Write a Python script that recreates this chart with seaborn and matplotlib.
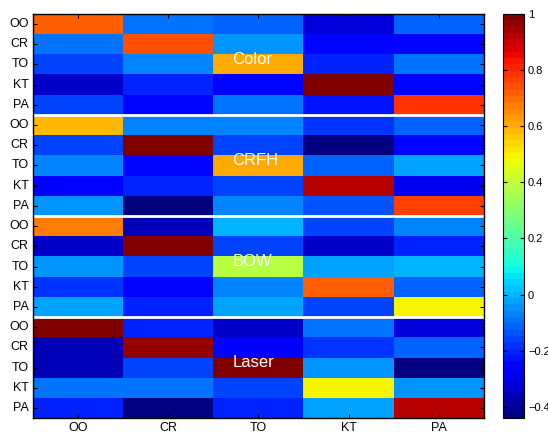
import numpy as np
import pandas as pd
import matplotlib
matplotlib.use("Agg")
import matplotlib.pyplot as plt
import seaborn as sns

labels = ["OO", "CR", "TO", "KT", "PA"]
groups = ["Color", "CRFH", "BOW", "Laser"]

color_vals = [
    [0.71, -0.10, -0.12, -0.32, -0.12],
    [-0.10, 0.74, -0.05, -0.26, -0.26],
    [-0.15, -0.08, 0.60, -0.20, -0.10],
    [-0.34, -0.20, -0.26, 1.00, -0.26],
    [-0.15, -0.26, -0.10, -0.22, 0.79],
]
crfh_vals = [
    [0.58, -0.08, -0.08, -0.18, -0.12],
    [-0.15, 1.00, -0.16, -0.42, -0.26],
    [-0.07, -0.26, 0.60, -0.12, -0.02],
    [-0.28, -0.20, -0.16, 0.92, -0.30],
    [-0.04, -0.44, -0.07, -0.14, 0.77],
]
bow_vals = [
    [0.68, -0.36, 0.00, -0.15, -0.08],
    [-0.34, 1.00, -0.15, -0.34, -0.20],
    [-0.05, -0.15, 0.38, -0.03, 0.00],
    [-0.18, -0.26, -0.08, 0.71, -0.12],
    [-0.02, -0.20, -0.02, -0.15, 0.49],
]
laser_vals = [
    [1.00, -0.21, -0.34, -0.10, -0.32],
    [-0.36, 0.97, -0.28, -0.18, -0.12],
    [-0.36, -0.15, 1.00, -0.05, -0.42],
    [-0.10, -0.10, -0.15, 0.49, -0.04],
    [-0.20, -0.44, -0.21, -0.02, 0.92],
]

blocks = [color_vals, crfh_vals, bow_vals, laser_vals]
data = pd.DataFrame(np.vstack(blocks), columns=labels,
                    index=[f"{g}-{l}" for g in groups for l in labels])

plt.rcParams["font.family"] = ["Liberation Sans", "DejaVu Sans"]

fig = plt.figure(figsize=(5.48, 4.32), dpi=100)
ax = fig.add_axes([0.060, 0.032, 0.823, 0.936])
cax = fig.add_axes([0.918, 0.032, 0.038, 0.936])

cmap = plt.get_cmap("jet", 64)
sns.heatmap(data, ax=ax, cbar_ax=cax, cmap=cmap, vmin=-0.44, vmax=1.0,
            xticklabels=labels, yticklabels=labels * len(groups))

# separators between feature groups
for k in range(1, len(groups)):
    ax.axhline(k * len(labels), color="white", lw=2)

# group names
for k, g in enumerate(groups):
    ax.text(2.21, k * len(labels) + 2.25, g, color="white", fontsize=12,
            ha="left", va="center")

for side in ["top", "bottom", "left", "right"]:
    ax.spines[side].set_visible(True)
    ax.spines[side].set_color("black")
    ax.spines[side].set_linewidth(1.0)

ax.tick_params(axis="both", direction="in", length=3, width=0.8,
               top=True, right=True, labelsize=9, pad=3)
ax.tick_params(axis="y", labelrotation=0)
ax.tick_params(axis="x", labelrotation=0)
ax.set_xlabel("")
ax.set_ylabel("")

cbar = ax.collections[0].colorbar
cbar.set_ticks([-0.4, -0.2, 0, 0.2, 0.4, 0.6, 0.8, 1.0])
cbar.set_ticklabels(["\u22120.4", "\u22120.2", "0", "0.2", "0.4", "0.6", "0.8", "1"])
cax.tick_params(direction="in", length=3, width=0.8, labelsize=8,
                left=True, right=True, pad=3)
cbar.outline.set_edgecolor("black")
cbar.outline.set_linewidth(0.8)

fig.savefig("out.png", dpi=100)
